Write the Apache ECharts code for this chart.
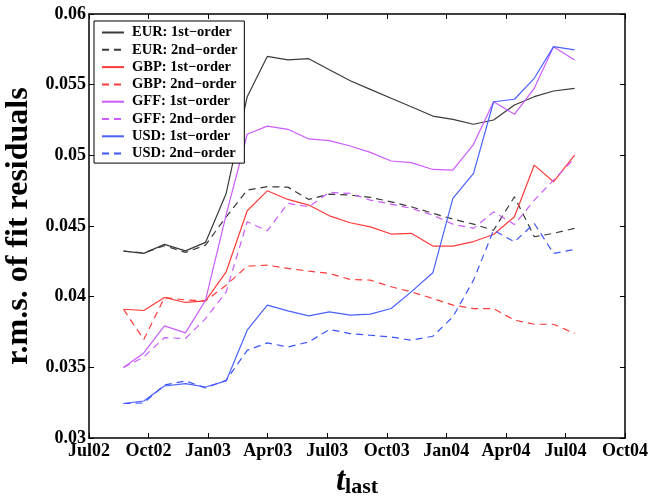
<!DOCTYPE html>
<html><head><meta charset="utf-8">
<script src="https://cdn.jsdelivr.net/npm/echarts@6/dist/echarts.min.js"></script>
<style>html,body{margin:0;padding:0;background:#fff}#c{width:654px;height:496px}</style>
</head><body><div id="c"></div>
<script>
// x positions: months after Jul 2002
const tLast = [1.74, 2.76, 3.80, 4.86, 5.87, 6.91, 7.97, 8.98, 10.02, 11.07, 12.11, 13.16, 14.17, 15.22, 16.23, 17.32, 18.33, 19.37, 20.38, 21.43, 22.43, 23.40, 24.46];
const xTickLabels = ['Jul02','Oct02','Jan03','Apr03','Jul03','Oct03','Jan04','Apr04','Jul04','Oct04'];
const yTickLabels = ['0.03','0.035','0.04','0.045','0.05','0.055','0.06'];

const eur1 = [0.04322,0.04306,0.0437,0.04324,0.04384,0.0473,0.05415,0.0570,0.05675,0.05684,0.05606,0.05528,0.05467,0.05404,0.05344,0.05278,0.05255,0.0522,0.0525,0.05356,0.05415,0.05455,0.05474];
const eur2 = [0.04322,0.0431,0.0436,0.04313,0.04365,0.04565,0.04754,0.04778,0.04775,0.04688,0.04726,0.04719,0.04703,0.04671,0.04636,0.0459,0.04549,0.04513,0.0447,0.04707,0.04424,0.04448,0.04483];
const gbp1 = [0.03911,0.03902,0.03994,0.03959,0.0397,0.04176,0.04608,0.04749,0.04688,0.04648,0.04572,0.04523,0.04494,0.04443,0.04448,0.04358,0.04358,0.0439,0.0444,0.04565,0.04931,0.04813,0.05002];
const gbp2 = [0.0391,0.03697,0.03994,0.03977,0.0397,0.04081,0.04216,0.04223,0.042,0.04181,0.04164,0.04122,0.04117,0.0407,0.04034,0.03987,0.0394,0.03916,0.03916,0.03834,0.03805,0.03805,0.0374];
const gff1 = [0.03499,0.03602,0.03793,0.03744,0.03975,0.0458,0.05149,0.05207,0.05184,0.05116,0.05104,0.05066,0.05021,0.0496,0.04948,0.049,0.04896,0.05078,0.05379,0.0529,0.05474,0.05769,0.05675];
const gff2 = [0.03499,0.03574,0.0371,0.03704,0.03845,0.04034,0.0453,0.04466,0.0466,0.04636,0.04738,0.04731,0.04683,0.04655,0.04625,0.04577,0.04513,0.04483,0.046,0.0451,0.04683,0.04825,0.04979];
const usd1 = [0.03244,0.03262,0.03368,0.03385,0.03361,0.03404,0.03763,0.0394,0.03899,0.03864,0.03892,0.03869,0.03876,0.03916,0.04034,0.04169,0.04695,0.04872,0.05379,0.05397,0.05545,0.05769,0.05746];
const usd2 = [0.03244,0.03248,0.03375,0.03404,0.03354,0.03409,0.0362,0.03673,0.03644,0.0368,0.03768,0.03739,0.03727,0.03715,0.03692,0.0372,0.03857,0.04117,0.0447,0.04388,0.04518,0.04306,0.04334];

const seriesDefs = [
  ['EUR: 1st\u2212order', eur1, '#3a3a3a', 'solid'],
  ['EUR: 2nd\u2212order', eur2, '#3a3a3a', 'dashed'],
  ['GBP: 1st\u2212order', gbp1, '#ff3b3b', 'solid'],
  ['GBP: 2nd\u2212order', gbp2, '#ff3b3b', 'dashed'],
  ['GFF: 1st\u2212order', gff1, '#cc5cff', 'solid'],
  ['GFF: 2nd\u2212order', gff2, '#cc5cff', 'dashed'],
  ['USD: 1st\u2212order', usd1, '#4a62ff', 'solid'],
  ['USD: 2nd\u2212order', usd2, '#3a55ff', 'dashed']
];

const FONT = 'Liberation Serif';
const chart = echarts.init(document.getElementById('c'), null, {renderer: 'canvas'});
const axisLine = {show: true, onZero: false, lineStyle: {color: '#000', width: 1.5}};
const tick = {show: true, inside: true, length: 5, lineStyle: {color: '#000', width: 1}};

chart.setOption({
  animation: false,
  backgroundColor: '#fff',
  grid: {left: 89, right: 29, top: 14, bottom: 58, containLabel: false, outerBoundsMode: 'none'},
  legend: {
    orient: 'vertical', left: 94, top: 21,
    backgroundColor: '#fff', borderColor: '#000', borderWidth: 1,
    padding: [4, 7, 2, 7], itemWidth: 22, itemHeight: 14, itemGap: 2.3,
    itemStyle: {color: 'rgba(0,0,0,0)', borderColor: 'rgba(0,0,0,0)', borderWidth: 0},
    textStyle: {fontFamily: FONT, fontWeight: 'bold', fontSize: 14.5, lineHeight: 14, color: '#000', padding: [0, 0, 0, 3]},
    data: seriesDefs.map(d => d[0])
  },
  xAxis: [{
    type: 'value', min: 0, max: 27, interval: 3, position: 'bottom',
    axisLine: axisLine, axisTick: tick, splitLine: {show: false},
    axisLabel: {fontFamily: FONT, fontWeight: 'bold', fontSize: 18, color: '#000', margin: 4,
      formatter: v => xTickLabels[Math.round(v / 3)]},
    name: '{t|t}{s|last}', nameLocation: 'middle', nameGap: 22,
    nameTextStyle: {verticalAlign: 'top', rich: {
      t: {fontFamily: FONT, fontStyle: 'italic', fontWeight: 'bold', fontSize: 33, lineHeight: 30, color: '#000', verticalAlign: 'top'},
      s: {fontFamily: FONT, fontWeight: 'bold', fontSize: 22, lineHeight: 22, color: '#000', verticalAlign: 'top', padding: [11, 0, 0, 0]}
    }}
  }, {
    type: 'value', min: 0, max: 27, interval: 3, position: 'top',
    axisLine: axisLine, axisTick: tick, axisLabel: {show: false}, splitLine: {show: false}
  }],
  yAxis: [{
    type: 'value', min: 0.03, max: 0.06, interval: 0.005, position: 'left',
    axisLine: axisLine, axisTick: tick, splitLine: {show: false},
    axisLabel: {fontFamily: FONT, fontWeight: 'bold', fontSize: 18, color: '#000', margin: 3,
      formatter: v => yTickLabels[Math.round((v - 0.03) / 0.005)]},
    name: 'r.m.s. of fit residuals', nameLocation: 'middle', nameGap: 50, nameRotate: 90,
    nameTextStyle: {fontFamily: FONT, fontWeight: 'bold', fontSize: 32, color: '#000'}
  }, {
    type: 'value', min: 0.03, max: 0.06, interval: 0.005, position: 'right',
    axisLine: axisLine, axisTick: tick, axisLabel: {show: false}, splitLine: {show: false}
  }],
  series: seriesDefs.map(d => ({
    name: d[0], type: 'line', xAxisIndex: 0, yAxisIndex: 0,
    data: tLast.map((t, i) => [t, d[1][i]]),
    showSymbol: false, symbol: 'none',
    lineStyle: {color: d[2], width: 1.2, type: d[3] === 'dashed' ? [7, 5] : 'solid'},
    itemStyle: {color: d[2]}
  }))
});
</script></body></html>
